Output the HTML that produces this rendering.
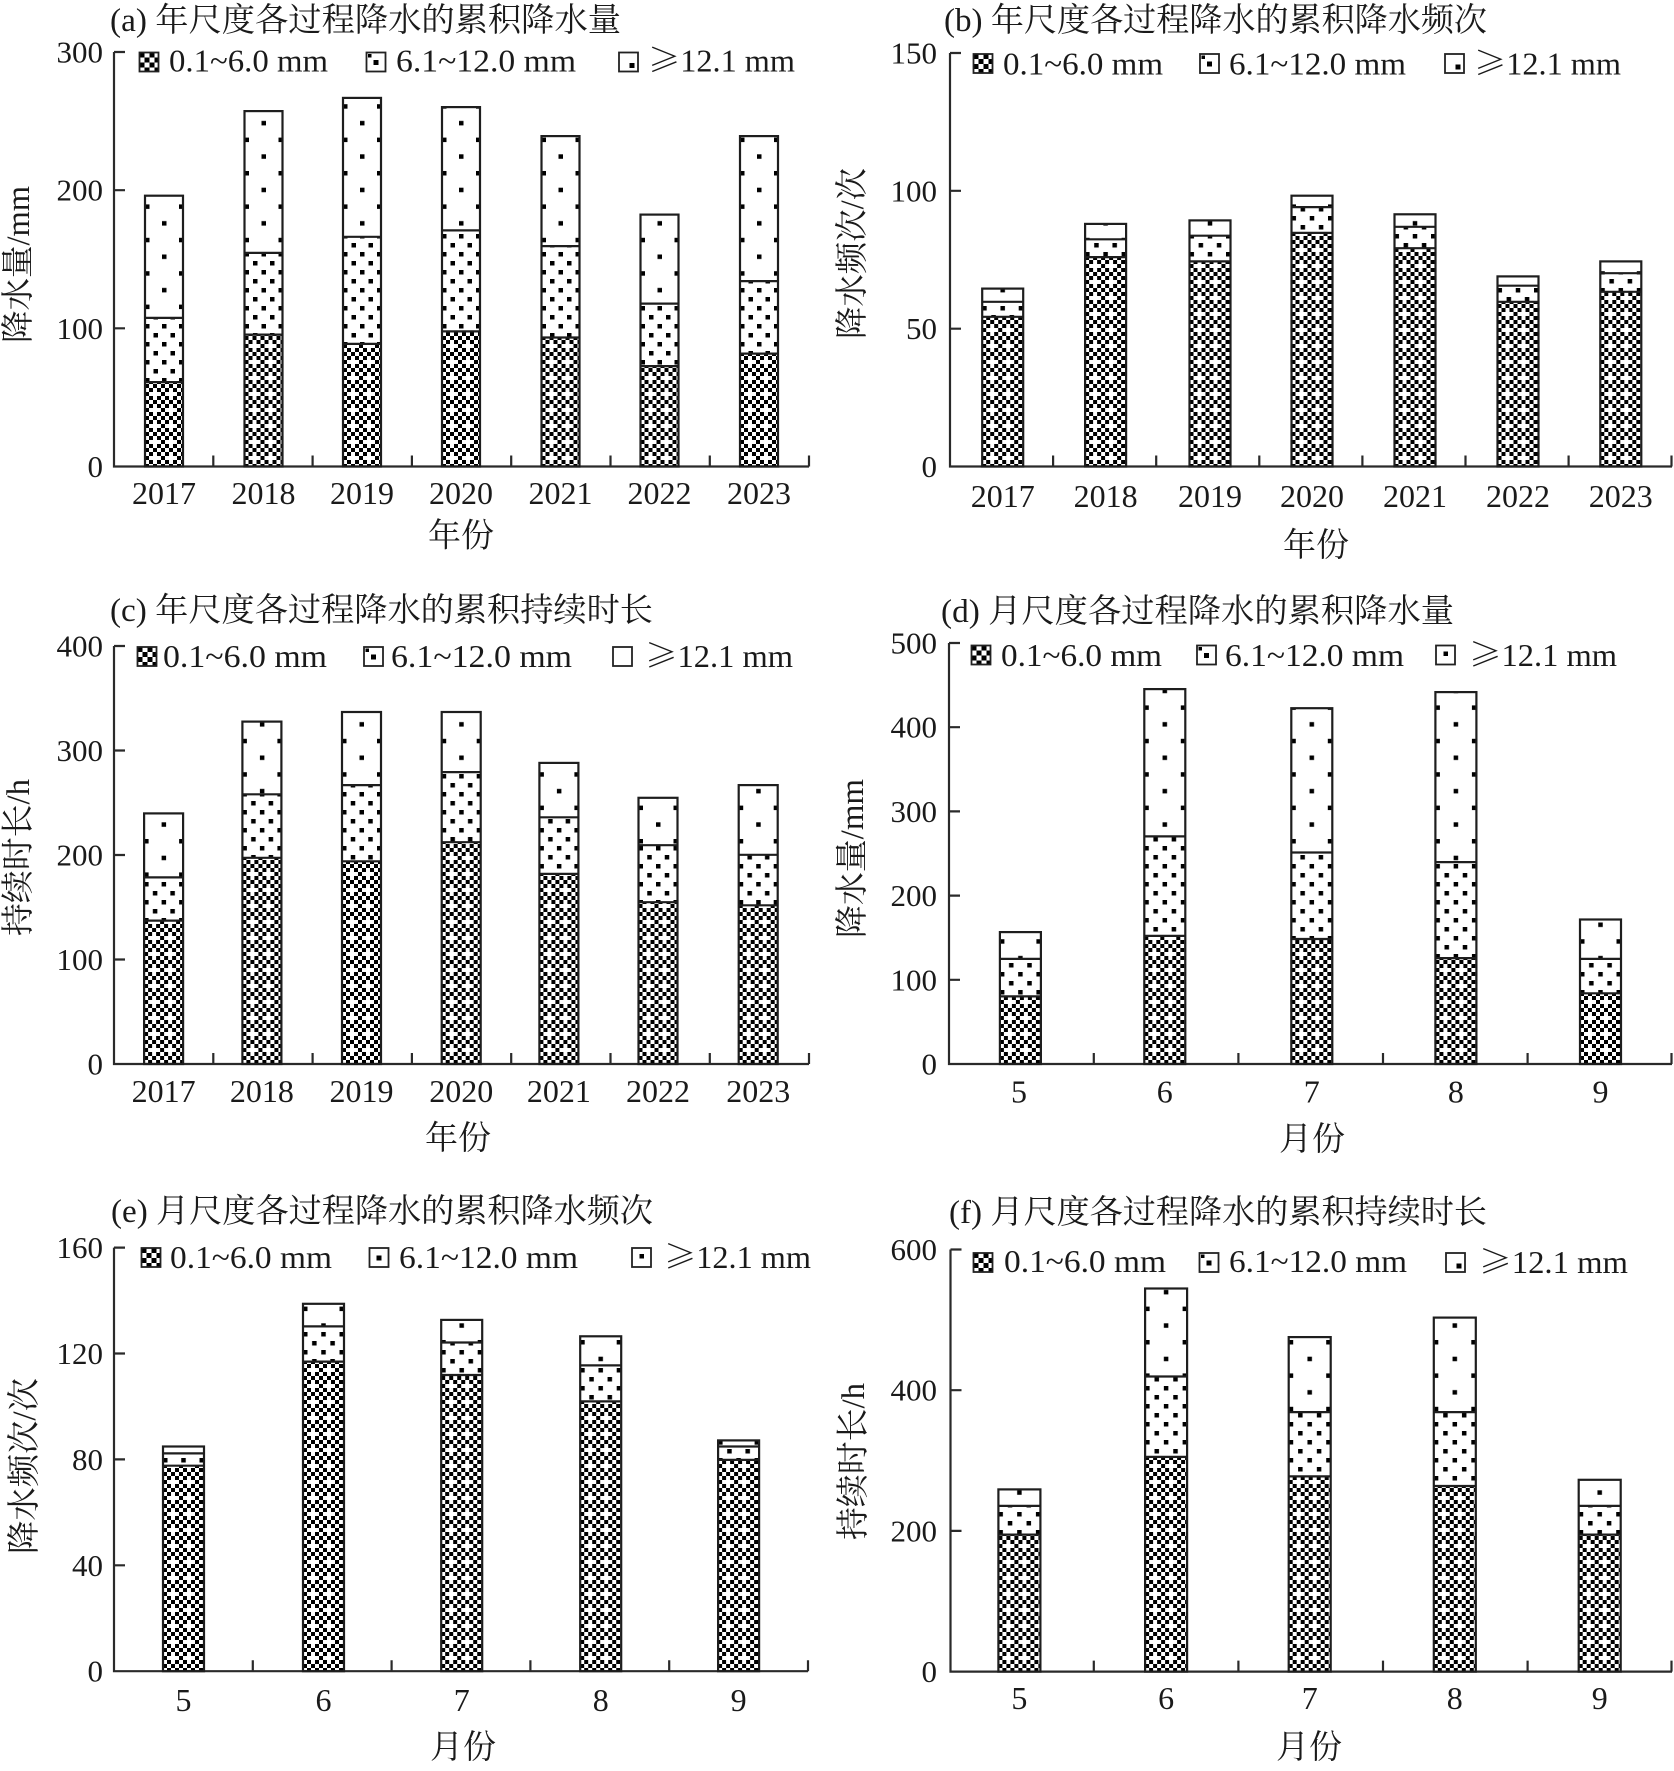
<!DOCTYPE html>
<html><head><meta charset="utf-8"><style>
html,body{margin:0;padding:0;background:#fff}
svg{display:block}
text{font-family:"Liberation Serif","Noto Serif CJK SC",serif;fill:#1a1a1a}
.o{fill:none;stroke:#1e1e1e;stroke-width:2.2}
.ax{stroke:#2a2a2a;stroke-width:2.2;fill:none}
.yt{font-size:31px;text-anchor:end}
.xt{font-size:32px;text-anchor:middle}
.lg{font-size:32px}
.tt{font-size:33px}
.al{font-size:33px;text-anchor:middle;dominant-baseline:central}
</style></head><body>
<svg width="1674" height="1771" viewBox="0 0 1674 1771" xmlns="http://www.w3.org/2000/svg">
<defs>
<pattern id="ck" patternUnits="userSpaceOnUse" width="16" height="16"><g fill="#000"><rect x="0" y="0" width="4" height="4"/><rect x="8" y="0" width="4" height="4"/><rect x="4" y="4" width="4" height="4"/><rect x="12" y="4" width="4" height="4"/><rect x="0" y="8" width="4" height="4"/><rect x="4" y="12" width="4" height="4"/><rect x="12" y="12" width="4" height="4"/></g></pattern>
<pattern id="d38" patternUnits="userSpaceOnUse" width="17" height="18"><g fill="#000"><rect x="0" y="0" width="4.5" height="4.5"/><rect x="8.5" y="9" width="4.5" height="4.5"/></g></pattern>
<pattern id="d39" patternUnits="userSpaceOnUse" width="17.5" height="18"><g fill="#000"><rect x="0" y="0" width="4.5" height="4.5"/><rect x="8.75" y="9" width="4.5" height="4.5"/></g></pattern>
<pattern id="d41" patternUnits="userSpaceOnUse" width="18.25" height="18"><g fill="#000"><rect x="0" y="0" width="4.5" height="4.5"/><rect x="9.1" y="9" width="4.5" height="4.5"/></g></pattern>
<pattern id="d42" patternUnits="userSpaceOnUse" width="18.75" height="18"><g fill="#000"><rect x="0" y="0" width="4.5" height="4.5"/><rect x="9.4" y="9" width="4.5" height="4.5"/></g></pattern>
<pattern id="s38" patternUnits="userSpaceOnUse" width="34" height="33.4"><g fill="#000"><rect x="0" y="4" width="4.5" height="4.5"/><rect x="17" y="20.7" width="4.5" height="4.5"/></g></pattern>
<pattern id="s39" patternUnits="userSpaceOnUse" width="35" height="33.4"><g fill="#000"><rect x="0" y="4" width="4.5" height="4.5"/><rect x="17.5" y="20.7" width="4.5" height="4.5"/></g></pattern>
<pattern id="s41" patternUnits="userSpaceOnUse" width="36.5" height="33.4"><g fill="#000"><rect x="0" y="4" width="4.5" height="4.5"/><rect x="18.25" y="20.7" width="4.5" height="4.5"/></g></pattern>
<pattern id="s42" patternUnits="userSpaceOnUse" width="37.5" height="33.4"><g fill="#000"><rect x="0" y="4" width="4.5" height="4.5"/><rect x="18.75" y="20.7" width="4.5" height="4.5"/></g></pattern>
<pattern id="lk" patternUnits="userSpaceOnUse" width="10" height="10"><g fill="#000"><rect x="0" y="0" width="5" height="5"/><rect x="5" y="5" width="5" height="5"/></g></pattern>
</defs>
<rect width="1674" height="1771" fill="#fff"/>

<!-- ===== Panel (a) ===== -->
<text class="tt" x="110" y="31" textLength="511" lengthAdjust="spacingAndGlyphs">(a) 年尺度各过程降水的累积降水量</text>
<path class="ax" d="M114 52V466.5H809M114 52H125M114 190.2H125M114 328.3H125M213.3 466.5V455.5M312.6 466.5V455.5M411.9 466.5V455.5M511.2 466.5V455.5M610.5 466.5V455.5M709.8 466.5V455.5M809 466.5V455.5"/>
<text class="yt" x="103" y="62.5">300</text><text class="yt" x="103" y="200.7">200</text><text class="yt" x="103" y="338.8">100</text><text class="yt" x="103" y="477">0</text>
<text class="xt" x="164" y="504">2017</text><text class="xt" x="263.5" y="504">2018</text><text class="xt" x="362" y="504">2019</text><text class="xt" x="461" y="504">2020</text><text class="xt" x="560.5" y="504">2021</text><text class="xt" x="659.5" y="504">2022</text><text class="xt" x="759" y="504">2023</text>
<text class="al" x="461" y="536.5">年份</text>
<text class="al" transform="translate(19 264.5) rotate(-90)" textLength="157" lengthAdjust="spacingAndGlyphs">降水量/mm</text>
<g transform="translate(139.5 52.5)"><rect width="19" height="19" fill="url(#lk)" stroke="#222" stroke-width="1.8"/></g>
<text class="lg" x="169" y="71.5" textLength="159" lengthAdjust="spacingAndGlyphs">0.1~6.0 mm</text>
<rect x="366.5" y="52.5" width="19" height="19" fill="#fff" stroke="#222" stroke-width="1.8"/><rect x="373.5" y="60" width="5" height="5" fill="#000"/><rect x="368" y="54" width="3.5" height="3.5" fill="#000"/>
<text class="lg" x="396" y="71.5" textLength="180" lengthAdjust="spacingAndGlyphs">6.1~12.0 mm</text>
<rect x="619" y="52.5" width="19" height="19" fill="#fff" stroke="#222" stroke-width="1.8"/><rect x="629.5" y="63" width="5" height="5" fill="#000"/>
<text class="lg" x="648" y="71.5" textLength="147" lengthAdjust="spacingAndGlyphs"><tspan font-family="Noto Serif CJK SC, serif">≥</tspan>12.1 mm</text>

<g transform="translate(145 0)"><rect y="195.7" width="38" height="122.2" fill="url(#s38)"/><rect y="317.9" width="38" height="64.2" fill="url(#d38)"/><rect y="382.1" width="38" height="84.4" fill="url(#ck)"/><rect class="o" y="195.7" width="38" height="270.8"/><path class="o" d="M0 317.9H38M0 382.1H38"/></g>
<g transform="translate(244.5 0)"><rect y="111.1" width="38" height="141.8" fill="url(#s38)"/><rect y="252.9" width="38" height="81.7" fill="url(#d38)"/><rect y="334.6" width="38" height="131.9" fill="url(#ck)"/><rect class="o" y="111.1" width="38" height="355.4"/><path class="o" d="M0 252.9H38M0 334.6H38"/></g>
<g transform="translate(343 0)"><rect y="97.9" width="38" height="138.9" fill="url(#s38)"/><rect y="236.8" width="38" height="107.1" fill="url(#d38)"/><rect y="343.9" width="38" height="122.6" fill="url(#ck)"/><rect class="o" y="97.9" width="38" height="368.6"/><path class="o" d="M0 236.8H38M0 343.9H38"/></g>
<g transform="translate(442 0)"><rect y="107.1" width="38" height="123.3" fill="url(#s38)"/><rect y="230.4" width="38" height="101" fill="url(#d38)"/><rect y="331.4" width="38" height="135.1" fill="url(#ck)"/><rect class="o" y="107.1" width="38" height="359.4"/><path class="o" d="M0 230.4H38M0 331.4H38"/></g>
<g transform="translate(541.5 0)"><rect y="136.1" width="38" height="110" fill="url(#s38)"/><rect y="246.1" width="38" height="91.4" fill="url(#d38)"/><rect y="337.5" width="38" height="129" fill="url(#ck)"/><rect class="o" y="136.1" width="38" height="330.4"/><path class="o" d="M0 246.1H38M0 337.5H38"/></g>
<g transform="translate(640.5 0)"><rect y="214.6" width="38" height="89" fill="url(#s38)"/><rect y="303.6" width="38" height="62.5" fill="url(#d38)"/><rect y="366.1" width="38" height="100.4" fill="url(#ck)"/><rect class="o" y="214.6" width="38" height="251.9"/><path class="o" d="M0 303.6H38M0 366.1H38"/></g>
<g transform="translate(740 0)"><rect y="136.1" width="38" height="145" fill="url(#s38)"/><rect y="281.1" width="38" height="72.5" fill="url(#d38)"/><rect y="353.6" width="38" height="112.9" fill="url(#ck)"/><rect class="o" y="136.1" width="38" height="330.4"/><path class="o" d="M0 281.1H38M0 353.6H38"/></g>

<!-- ===== Panel (b) ===== -->
<text class="tt" x="944" y="31" textLength="543" lengthAdjust="spacingAndGlyphs">(b) 年尺度各过程降水的累积降水频次</text>
<path class="ax" d="M950 53V466.5H1672M950 53H961M950 190.8H961M950 328.7H961M1053.1 466.5V455.5M1156.2 466.5V455.5M1259.3 466.5V455.5M1362.4 466.5V455.5M1465.5 466.5V455.5M1568.6 466.5V455.5M1671.5 466.5V455.5"/>
<text class="yt" x="937" y="63.5">150</text><text class="yt" x="937" y="201.3">100</text><text class="yt" x="937" y="339.2">50</text><text class="yt" x="937" y="477">0</text>
<text class="xt" x="1002.7" y="507">2017</text><text class="xt" x="1105.6" y="507">2018</text><text class="xt" x="1210" y="507">2019</text><text class="xt" x="1312" y="507">2020</text><text class="xt" x="1415" y="507">2021</text><text class="xt" x="1518" y="507">2022</text><text class="xt" x="1620.8" y="507">2023</text>
<text class="al" x="1316" y="546">年份</text>
<text class="al" transform="translate(853 253.5) rotate(-90)" textLength="171" lengthAdjust="spacingAndGlyphs">降水频次/次</text>
<g transform="translate(973.5 54)"><rect width="19" height="19" fill="url(#lk)" stroke="#222" stroke-width="1.8"/></g>
<text class="lg" x="1003" y="74.5" textLength="160" lengthAdjust="spacingAndGlyphs">0.1~6.0 mm</text>
<rect x="1200" y="54" width="19" height="19" fill="#fff" stroke="#222" stroke-width="1.8"/><rect x="1207" y="61.5" width="5" height="5" fill="#000"/><rect x="1201.5" y="55.5" width="3.5" height="3.5" fill="#000"/>
<text class="lg" x="1229" y="74.5" textLength="177" lengthAdjust="spacingAndGlyphs">6.1~12.0 mm</text>
<rect x="1445" y="54" width="19" height="19" fill="#fff" stroke="#222" stroke-width="1.8"/><rect x="1455.5" y="64.5" width="5" height="5" fill="#000"/>
<text class="lg" x="1474" y="74.5" textLength="147" lengthAdjust="spacingAndGlyphs"><tspan font-family="Noto Serif CJK SC, serif">≥</tspan>12.1 mm</text>

<g transform="translate(982.2 0)"><rect y="288.6" width="41" height="13.2" fill="url(#s41)"/><rect y="301.8" width="41" height="15" fill="url(#d41)"/><rect y="316.8" width="41" height="149.7" fill="url(#ck)"/><rect class="o" y="288.6" width="41" height="177.9"/><path class="o" d="M0 301.8H41M0 316.8H41"/></g>
<g transform="translate(1085.1 0)"><rect y="223.9" width="41" height="15.4" fill="url(#s41)"/><rect y="239.3" width="41" height="17.8" fill="url(#d41)"/><rect y="257.1" width="41" height="209.4" fill="url(#ck)"/><rect class="o" y="223.9" width="41" height="242.6"/><path class="o" d="M0 239.3H41M0 257.1H41"/></g>
<g transform="translate(1189.5 0)"><rect y="220.4" width="41" height="15.3" fill="url(#s41)"/><rect y="235.7" width="41" height="25.7" fill="url(#d41)"/><rect y="261.4" width="41" height="205.1" fill="url(#ck)"/><rect class="o" y="220.4" width="41" height="246.1"/><path class="o" d="M0 235.7H41M0 261.4H41"/></g>
<g transform="translate(1291.5 0)"><rect y="195.7" width="41" height="11.4" fill="url(#s41)"/><rect y="207.1" width="41" height="25.8" fill="url(#d41)"/><rect y="232.9" width="41" height="233.6" fill="url(#ck)"/><rect class="o" y="195.7" width="41" height="270.8"/><path class="o" d="M0 207.1H41M0 232.9H41"/></g>
<g transform="translate(1394.5 0)"><rect y="214.3" width="41" height="12.5" fill="url(#s41)"/><rect y="226.8" width="41" height="21.4" fill="url(#d41)"/><rect y="248.2" width="41" height="218.3" fill="url(#ck)"/><rect class="o" y="214.3" width="41" height="252.2"/><path class="o" d="M0 226.8H41M0 248.2H41"/></g>
<g transform="translate(1497.5 0)"><rect y="276.4" width="41" height="9.3" fill="url(#s41)"/><rect y="285.7" width="41" height="16.1" fill="url(#d41)"/><rect y="301.8" width="41" height="164.7" fill="url(#ck)"/><rect class="o" y="276.4" width="41" height="190.1"/><path class="o" d="M0 285.7H41M0 301.8H41"/></g>
<g transform="translate(1600.3 0)"><rect y="261.4" width="41" height="11.8" fill="url(#s41)"/><rect y="273.2" width="41" height="18.6" fill="url(#d41)"/><rect y="291.8" width="41" height="174.7" fill="url(#ck)"/><rect class="o" y="261.4" width="41" height="205.1"/><path class="o" d="M0 273.2H41M0 291.8H41"/></g>

<!-- ===== Panel (c) ===== -->
<text class="tt" x="110" y="621" textLength="543" lengthAdjust="spacingAndGlyphs">(c) 年尺度各过程降水的累积持续时长</text>
<path class="ax" d="M114 646V1064H809M114 646H125M114 750.5H125M114 855H125M114 959.5H125M213.3 1064V1053M312.6 1064V1053M411.9 1064V1053M511.2 1064V1053M610.5 1064V1053M709.8 1064V1053M809 1064V1053"/>
<text class="yt" x="103" y="656.5">400</text><text class="yt" x="103" y="761">300</text><text class="yt" x="103" y="865.5">200</text><text class="yt" x="103" y="970">100</text><text class="yt" x="103" y="1074.5">0</text>
<text class="xt" x="163.6" y="1102">2017</text><text class="xt" x="261.9" y="1102">2018</text><text class="xt" x="361.5" y="1102">2019</text><text class="xt" x="461.2" y="1102">2020</text><text class="xt" x="558.9" y="1102">2021</text><text class="xt" x="658" y="1102">2022</text><text class="xt" x="758.2" y="1102">2023</text>
<text class="al" x="458" y="1139">年份</text>
<text class="al" transform="translate(19 857.5) rotate(-90)" textLength="157" lengthAdjust="spacingAndGlyphs">持续时长/h</text>
<g transform="translate(137.5 647)"><rect width="19" height="19" fill="url(#lk)" stroke="#222" stroke-width="1.8"/></g>
<text class="lg" x="163" y="667" textLength="164" lengthAdjust="spacingAndGlyphs">0.1~6.0 mm</text>
<rect x="364" y="647" width="19" height="19" fill="#fff" stroke="#222" stroke-width="1.8"/><rect x="371" y="654.5" width="5" height="5" fill="#000"/><rect x="365.5" y="648.5" width="3.5" height="3.5" fill="#000"/>
<text class="lg" x="391" y="667" textLength="181" lengthAdjust="spacingAndGlyphs">6.1~12.0 mm</text>
<rect x="613" y="647" width="19" height="19" fill="#fff" stroke="#222" stroke-width="1.8"/>
<text class="lg" x="645" y="667" textLength="148" lengthAdjust="spacingAndGlyphs"><tspan font-family="Noto Serif CJK SC, serif">≥</tspan>12.1 mm</text>

<g transform="translate(144.1 0)"><rect y="813.4" width="39" height="64" fill="url(#s39)"/><rect y="877.4" width="39" height="43.2" fill="url(#d39)"/><rect y="920.6" width="39" height="143.4" fill="url(#ck)"/><rect class="o" y="813.4" width="39" height="250.6"/><path class="o" d="M0 877.4H39M0 920.6H39"/></g>
<g transform="translate(242.4 0)"><rect y="721.6" width="39" height="72.7" fill="url(#s39)"/><rect y="794.3" width="39" height="63.5" fill="url(#d39)"/><rect y="857.8" width="39" height="206.2" fill="url(#ck)"/><rect class="o" y="721.6" width="39" height="342.4"/><path class="o" d="M0 794.3H39M0 857.8H39"/></g>
<g transform="translate(342 0)"><rect y="712" width="39" height="73.1" fill="url(#s39)"/><rect y="785.1" width="39" height="76.2" fill="url(#d39)"/><rect y="861.3" width="39" height="202.7" fill="url(#ck)"/><rect class="o" y="712" width="39" height="352"/><path class="o" d="M0 785.1H39M0 861.3H39"/></g>
<g transform="translate(441.7 0)"><rect y="712" width="39" height="60.1" fill="url(#s39)"/><rect y="772.1" width="39" height="70.1" fill="url(#d39)"/><rect y="842.2" width="39" height="221.8" fill="url(#ck)"/><rect class="o" y="712" width="39" height="352"/><path class="o" d="M0 772.1H39M0 842.2H39"/></g>
<g transform="translate(539.4 0)"><rect y="762.9" width="39" height="54.4" fill="url(#s39)"/><rect y="817.3" width="39" height="56.6" fill="url(#d39)"/><rect y="873.9" width="39" height="190.1" fill="url(#ck)"/><rect class="o" y="762.9" width="39" height="301.1"/><path class="o" d="M0 817.3H39M0 873.9H39"/></g>
<g transform="translate(638.5 0)"><rect y="797.8" width="39" height="47.4" fill="url(#s39)"/><rect y="845.2" width="39" height="57" fill="url(#d39)"/><rect y="902.2" width="39" height="161.8" fill="url(#ck)"/><rect class="o" y="797.8" width="39" height="266.2"/><path class="o" d="M0 845.2H39M0 902.2H39"/></g>
<g transform="translate(738.7 0)"><rect y="785.1" width="39" height="69.7" fill="url(#s39)"/><rect y="854.8" width="39" height="50.5" fill="url(#d39)"/><rect y="905.3" width="39" height="158.7" fill="url(#ck)"/><rect class="o" y="785.1" width="39" height="278.9"/><path class="o" d="M0 854.8H39M0 905.3H39"/></g>

<!-- ===== Panel (d) ===== -->
<text class="tt" x="941" y="622" textLength="513" lengthAdjust="spacingAndGlyphs">(d) 月尺度各过程降水的累积降水量</text>
<path class="ax" d="M949 643V1064H1672M949 643H960M949 727.2H960M949 811.4H960M949 895.6H960M949 979.8H960M1093.8 1064V1053M1238.4 1064V1053M1383 1064V1053M1527.6 1064V1053M1671.5 1064V1053"/>
<text class="yt" x="937" y="653.5">500</text><text class="yt" x="937" y="737.7">400</text><text class="yt" x="937" y="821.9">300</text><text class="yt" x="937" y="906.1">200</text><text class="yt" x="937" y="990.3">100</text><text class="yt" x="937" y="1074.5">0</text>
<text class="xt" x="1019" y="1102.5">5</text><text class="xt" x="1164.8" y="1102.5">6</text><text class="xt" x="1311.8" y="1102.5">7</text><text class="xt" x="1455.9" y="1102.5">8</text><text class="xt" x="1600.5" y="1102.5">9</text>
<text class="al" x="1312" y="1140">月份</text>
<text class="al" transform="translate(853 858.5) rotate(-90)" textLength="159" lengthAdjust="spacingAndGlyphs">降水量/mm</text>
<g transform="translate(971.5 645.5)"><rect width="19" height="19" fill="url(#lk)" stroke="#222" stroke-width="1.8"/></g>
<text class="lg" x="1001" y="666" textLength="161" lengthAdjust="spacingAndGlyphs">0.1~6.0 mm</text>
<rect x="1197" y="645.5" width="19" height="19" fill="#fff" stroke="#222" stroke-width="1.8"/><rect x="1204" y="653" width="5" height="5" fill="#000"/><rect x="1198.5" y="647" width="3.5" height="3.5" fill="#000"/>
<text class="lg" x="1225" y="666" textLength="179" lengthAdjust="spacingAndGlyphs">6.1~12.0 mm</text>
<rect x="1436" y="645.5" width="19" height="19" fill="#fff" stroke="#222" stroke-width="1.8"/><rect x="1443.5" y="651.5" width="4.5" height="4.5" fill="#000"/>
<text class="lg" x="1469" y="666" textLength="148" lengthAdjust="spacingAndGlyphs"><tspan font-family="Noto Serif CJK SC, serif">≥</tspan>12.1 mm</text>

<g transform="translate(999.9 0)"><rect y="932.1" width="41" height="26.8" fill="url(#s41)"/><rect y="958.9" width="41" height="37.5" fill="url(#d41)"/><rect y="996.4" width="41" height="67.6" fill="url(#ck)"/><rect class="o" y="932.1" width="41" height="131.9"/><path class="o" d="M0 958.9H41M0 996.4H41"/></g>
<g transform="translate(1144.3 0)"><rect y="689.1" width="41" height="147.3" fill="url(#s41)"/><rect y="836.4" width="41" height="99.5" fill="url(#d41)"/><rect y="935.9" width="41" height="128.1" fill="url(#ck)"/><rect class="o" y="689.1" width="41" height="374.9"/><path class="o" d="M0 836.4H41M0 935.9H41"/></g>
<g transform="translate(1291.3 0)"><rect y="708.2" width="41" height="144.3" fill="url(#s41)"/><rect y="852.5" width="41" height="86.5" fill="url(#d41)"/><rect y="939" width="41" height="125" fill="url(#ck)"/><rect class="o" y="708.2" width="41" height="355.8"/><path class="o" d="M0 852.5H41M0 939H41"/></g>
<g transform="translate(1435.4 0)"><rect y="692.1" width="41" height="170" fill="url(#s41)"/><rect y="862.1" width="41" height="96" fill="url(#d41)"/><rect y="958.1" width="41" height="105.9" fill="url(#ck)"/><rect class="o" y="692.1" width="41" height="371.9"/><path class="o" d="M0 862.1H41M0 958.1H41"/></g>
<g transform="translate(1580 0)"><rect y="919.5" width="41" height="39.4" fill="url(#s41)"/><rect y="958.9" width="41" height="34.4" fill="url(#d41)"/><rect y="993.3" width="41" height="70.7" fill="url(#ck)"/><rect class="o" y="919.5" width="41" height="144.5"/><path class="o" d="M0 958.9H41M0 993.3H41"/></g>

<!-- ===== Panel (e) ===== -->
<text class="tt" x="111" y="1222" textLength="542" lengthAdjust="spacingAndGlyphs">(e) 月尺度各过程降水的累积降水频次</text>
<path class="ax" d="M114 1247.6V1671.2H808M114 1247.6H125M114 1353.5H125M114 1459.4H125M114 1565.3H125M252.8 1671.2V1660.2M391.6 1671.2V1660.2M530.4 1671.2V1660.2M669.2 1671.2V1660.2M808 1671.2V1660.2"/>
<text class="yt" x="103" y="1258">160</text><text class="yt" x="103" y="1364">120</text><text class="yt" x="103" y="1470">80</text><text class="yt" x="103" y="1575.8">40</text><text class="yt" x="103" y="1681.7">0</text>
<text class="xt" x="183.5" y="1711">5</text><text class="xt" x="323.5" y="1711">6</text><text class="xt" x="461.7" y="1711">7</text><text class="xt" x="600.7" y="1711">8</text><text class="xt" x="738.6" y="1711">9</text>
<text class="al" x="463" y="1748">月份</text>
<text class="al" transform="translate(25 1466) rotate(-90)" textLength="176" lengthAdjust="spacingAndGlyphs">降水频次/次</text>
<g transform="translate(141.5 1248)"><rect width="19" height="19" fill="url(#lk)" stroke="#222" stroke-width="1.8"/></g>
<text class="lg" x="170" y="1268" textLength="162" lengthAdjust="spacingAndGlyphs">0.1~6.0 mm</text>
<rect x="369.5" y="1248" width="19" height="19" fill="#fff" stroke="#222" stroke-width="1.8"/><rect x="376.5" y="1255.5" width="5" height="5" fill="#000"/>
<text class="lg" x="399" y="1268" textLength="179" lengthAdjust="spacingAndGlyphs">6.1~12.0 mm</text>
<rect x="632" y="1248" width="19" height="19" fill="#fff" stroke="#222" stroke-width="1.8"/><rect x="639.5" y="1254" width="4.5" height="4.5" fill="#000"/>
<text class="lg" x="664" y="1268" textLength="147" lengthAdjust="spacingAndGlyphs"><tspan font-family="Noto Serif CJK SC, serif">≥</tspan>12.1 mm</text>

<g transform="translate(163 0)"><rect y="1446.5" width="41" height="6.9" fill="url(#s41)"/><rect y="1453.4" width="41" height="12.3" fill="url(#d41)"/><rect y="1465.7" width="41" height="205.5" fill="url(#ck)"/><rect class="o" y="1446.5" width="41" height="224.7"/><path class="o" d="M0 1453.4H41M0 1465.7H41"/></g>
<g transform="translate(303 0)"><rect y="1303.8" width="41" height="22.6" fill="url(#s41)"/><rect y="1326.4" width="41" height="35.2" fill="url(#d41)"/><rect y="1361.6" width="41" height="309.6" fill="url(#ck)"/><rect class="o" y="1303.8" width="41" height="367.4"/><path class="o" d="M0 1326.4H41M0 1361.6H41"/></g>
<g transform="translate(441.2 0)"><rect y="1319.9" width="41" height="22.6" fill="url(#s41)"/><rect y="1342.5" width="41" height="32.5" fill="url(#d41)"/><rect y="1375" width="41" height="296.2" fill="url(#ck)"/><rect class="o" y="1319.9" width="41" height="351.3"/><path class="o" d="M0 1342.5H41M0 1375H41"/></g>
<g transform="translate(580.2 0)"><rect y="1336.3" width="41" height="29.1" fill="url(#s41)"/><rect y="1365.4" width="41" height="36" fill="url(#d41)"/><rect y="1401.4" width="41" height="269.8" fill="url(#ck)"/><rect class="o" y="1336.3" width="41" height="334.9"/><path class="o" d="M0 1365.4H41M0 1401.4H41"/></g>
<g transform="translate(718.1 0)"><rect y="1440.4" width="41" height="6.1" fill="url(#s41)"/><rect y="1446.5" width="41" height="13.4" fill="url(#d41)"/><rect y="1459.9" width="41" height="211.3" fill="url(#ck)"/><rect class="o" y="1440.4" width="41" height="230.8"/><path class="o" d="M0 1446.5H41M0 1459.9H41"/></g>

<!-- ===== Panel (f) ===== -->
<text class="tt" x="949" y="1223" textLength="538" lengthAdjust="spacingAndGlyphs">(f) 月尺度各过程降水的累积持续时长</text>
<path class="ax" d="M950.5 1249.5V1671.6H1672M950.5 1249.5H961.5M950.5 1390.2H961.5M950.5 1530.9H961.5M1093.8 1671.6V1660.6M1238.4 1671.6V1660.6M1383 1671.6V1660.6M1527.6 1671.6V1660.6M1671.5 1671.6V1660.6"/>
<text class="yt" x="937" y="1260">600</text><text class="yt" x="937" y="1400.7">400</text><text class="yt" x="937" y="1541.4">200</text><text class="yt" x="937" y="1682">0</text>
<text class="xt" x="1019.4" y="1709">5</text><text class="xt" x="1166.1" y="1709">6</text><text class="xt" x="1309.7" y="1709">7</text><text class="xt" x="1454.8" y="1709">8</text><text class="xt" x="1599.7" y="1709">9</text>
<text class="al" x="1309" y="1748">月份</text>
<text class="al" transform="translate(854 1461.5) rotate(-90)" textLength="157" lengthAdjust="spacingAndGlyphs">持续时长/h</text>
<g transform="translate(973.5 1253)"><rect width="19" height="19" fill="url(#lk)" stroke="#222" stroke-width="1.8"/></g>
<text class="lg" x="1004" y="1272" textLength="162" lengthAdjust="spacingAndGlyphs">0.1~6.0 mm</text>
<rect x="1199.5" y="1253" width="19" height="19" fill="#fff" stroke="#222" stroke-width="1.8"/><rect x="1206.5" y="1260.5" width="5" height="5" fill="#000"/><rect x="1201" y="1254.5" width="3.5" height="3.5" fill="#000"/>
<text class="lg" x="1229" y="1272" textLength="178" lengthAdjust="spacingAndGlyphs">6.1~12.0 mm</text>
<rect x="1446" y="1253" width="19" height="19" fill="#fff" stroke="#222" stroke-width="1.8"/><rect x="1456.5" y="1263.5" width="5" height="5" fill="#000"/>
<text class="lg" x="1479" y="1273" textLength="149" lengthAdjust="spacingAndGlyphs"><tspan font-family="Noto Serif CJK SC, serif">≥</tspan>12.1 mm</text>

<g transform="translate(998.4 0)"><rect y="1489.4" width="42" height="16.5" fill="url(#s42)"/><rect y="1505.9" width="42" height="28.7" fill="url(#d42)"/><rect y="1534.6" width="42" height="137" fill="url(#ck)"/><rect class="o" y="1489.4" width="42" height="182.2"/><path class="o" d="M0 1505.9H42M0 1534.6H42"/></g>
<g transform="translate(1145.1 0)"><rect y="1288.5" width="42" height="88" fill="url(#s42)"/><rect y="1376.5" width="42" height="80.4" fill="url(#d42)"/><rect y="1456.9" width="42" height="214.7" fill="url(#ck)"/><rect class="o" y="1288.5" width="42" height="383.1"/><path class="o" d="M0 1376.5H42M0 1456.9H42"/></g>
<g transform="translate(1288.7 0)"><rect y="1337.1" width="42" height="75" fill="url(#s42)"/><rect y="1412.1" width="42" height="64.3" fill="url(#d42)"/><rect y="1476.4" width="42" height="195.2" fill="url(#ck)"/><rect class="o" y="1337.1" width="42" height="334.5"/><path class="o" d="M0 1412.1H42M0 1476.4H42"/></g>
<g transform="translate(1433.8 0)"><rect y="1317.6" width="42" height="94.5" fill="url(#s42)"/><rect y="1412.1" width="42" height="73.9" fill="url(#d42)"/><rect y="1486" width="42" height="185.6" fill="url(#ck)"/><rect class="o" y="1317.6" width="42" height="354"/><path class="o" d="M0 1412.1H42M0 1486H42"/></g>
<g transform="translate(1578.7 0)"><rect y="1479.8" width="42" height="26.1" fill="url(#s42)"/><rect y="1505.9" width="42" height="28.7" fill="url(#d42)"/><rect y="1534.6" width="42" height="137" fill="url(#ck)"/><rect class="o" y="1479.8" width="42" height="191.8"/><path class="o" d="M0 1505.9H42M0 1534.6H42"/></g>
</svg>
</body></html>
